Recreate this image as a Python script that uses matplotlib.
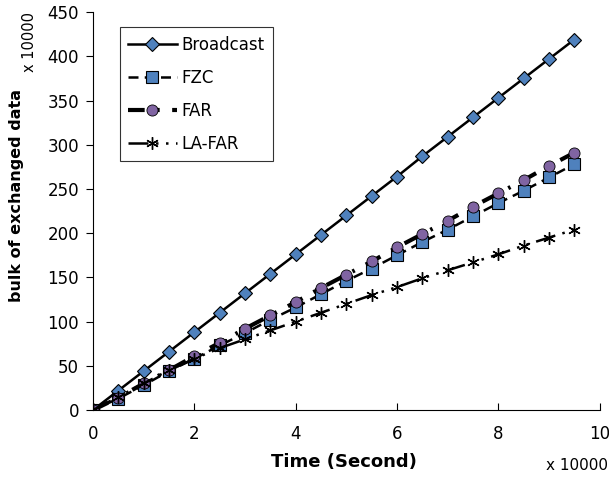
import matplotlib
matplotlib.use("Agg")
import matplotlib.pyplot as plt

plt.rcParams['font.family'] = ['DejaVu Sans']

# time, in units of 10000 s
time = [0, 0.5, 1, 1.5, 2, 2.5, 3, 3.5, 4, 4.5, 5, 5.5, 6, 6.5, 7, 7.5, 8, 8.5, 9, 9.5]

# bulk of exchanged data, in units of 10000
broadcast = [0, 22, 44, 66, 88, 110, 132, 154, 176, 198, 220, 242, 264, 287, 309, 331, 353, 375, 397, 419]
fzc = [0, 13, 28, 44, 58, 73, 87, 102, 116, 131, 146, 160, 175, 190, 204, 219, 234, 248, 263, 278]
far = [0, 14, 30, 45, 61, 76, 92, 107, 122, 138, 153, 168, 184, 199, 214, 230, 245, 260, 276, 291]
la_far = [0, 15, 30, 45, 58, 70, 80, 90, 100, 110, 120, 130, 139, 149, 158, 167, 176, 186, 195, 204]

blue = '#4F81BD'
purple = '#8064A2'

fig = plt.figure(figsize=(6.09, 4.80), dpi=100)
ax = fig.add_axes([0.1527, 0.1458, 0.832, 0.829])

ax.plot(time, broadcast, color='black', lw=1.8, marker='D', ms=7,
        mfc=blue, mec='black', mew=0.8, label='Broadcast')
ax.plot(time, fzc, color='black', lw=1.8, ls=(0, (4, 2.5)), marker='s', ms=8,
        mfc=blue, mec='black', mew=0.8, label='FZC')
ax.plot(time, far, color='black', lw=3, ls=(0, (4, 3, 0.6, 3)), marker='o', ms=8,
        mfc=purple, mec='black', mew=0.6, label='FAR')
ax.plot(time, la_far, color='black', lw=1.8, ls=(0, (8, 3, 1, 3, 1, 3)), marker=(6, 2, 0), ms=9,
        mec='black', mew=1.0, label='LA-FAR')

ax.set_xlim(0, 10)
ax.set_ylim(0, 450)
ax.set_xticks([0, 2, 4, 6, 8, 10])
ax.set_yticks(range(0, 451, 50))
ax.spines['top'].set_visible(False)
ax.spines['right'].set_visible(False)
ax.tick_params(axis='x', direction='in', length=5, labelsize=12, pad=11)
ax.tick_params(axis='y', direction='out', length=5, labelsize=12, pad=5)

ax.set_xlabel('Time (Second)', fontsize=13, fontweight='bold')
ax.set_ylabel('bulk of exchanged data', fontsize=11.5, fontweight='bold')
ax.xaxis.set_label_coords(0.495, -0.108)
ax.yaxis.set_label_coords(-0.136, 0.54)

fig.text(0.049, 0.975, 'x 10000', rotation=90, ha='center', va='top', fontsize=10.5)
fig.text(0.998, 0.031, 'x 10000', ha='right', va='center', fontsize=11)

leg = ax.legend(loc='upper left', bbox_to_anchor=(0.053, 0.962), borderaxespad=0,
                fontsize=12, frameon=True, fancybox=False, edgecolor='black',
                handlelength=2.9, labelspacing=0.9, handletextpad=0.3, borderpad=0.5)
leg.get_frame().set_linewidth(0.8)

fig.savefig('out.png', dpi=100)
